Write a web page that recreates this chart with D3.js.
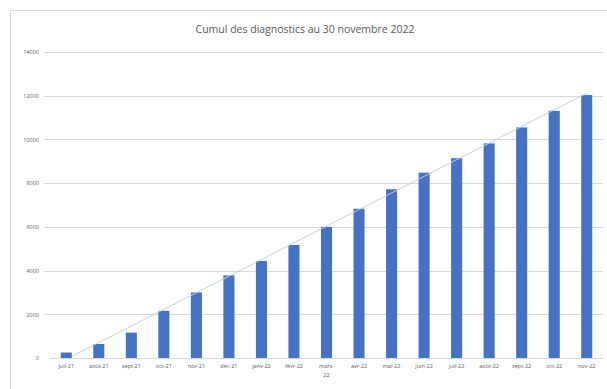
<!DOCTYPE html>
<html>
<head>
<meta charset="utf-8">
<script src="https://cdn.jsdelivr.net/npm/d3@7"></script>
<style>
  html, body { margin: 0; padding: 0; background: #fff; }
  svg { display: block; font-family: "Open Sans", "Liberation Sans", sans-serif; }
</style>
</head>
<body>
<svg id="chart" width="607" height="389"></svg>
<script>
// Cumulative diagnostics per month
const months = ["juil-21", "août-21", "sept-21", "oct-21", "nov-21", "déc-21",
  "janv-22", "févr-22", "mars-22", "avr-22", "mai-22", "juin-22", "juil-22",
  "août-22", "sept-22", "oct-22", "nov-22"];
const cumul = [250, 640, 1160, 2160, 3000, 3780, 4440, 5170, 6000, 6830,
  7720, 8480, 9140, 9820, 10550, 11310, 12030];
const yTicks = [0, 2000, 4000, 6000, 8000, 10000, 12000, 14000];
const title = "Cumul des diagnostics au 30 novembre 2022";

const svg = d3.select("#chart");
const W = 607, H = 389;
const plot = { left: 50, right: 603, top: 52, bottom: 358 };

// chart frame
svg.append("rect")
  .attr("x", 10.5).attr("y", 10.5)
  .attr("width", W + 20).attr("height", H + 20)
  .attr("fill", "#fff").attr("stroke", "#d9d9d9").attr("stroke-width", 1);

svg.append("text")
  .attr("x", 305).attr("y", 33)
  .attr("text-anchor", "middle")
  .attr("font-size", 10.5)
  .attr("fill", "#595959")
  .text(title);

const x = d3.scaleBand().domain(months)
  .range([plot.left, plot.right]).paddingInner(0.66).paddingOuter(0.33);
const y = d3.scaleLinear().domain([0, 14000]).range([plot.bottom, plot.top]);

// horizontal gridlines
svg.append("g").selectAll("line").data(yTicks.filter(d => d > 0)).join("line")
  .attr("x1", 44).attr("x2", plot.right)
  .attr("y1", d => Math.round(y(d)) + 0.5).attr("y2", d => Math.round(y(d)) + 0.5)
  .attr("stroke", "#d9d9d9").attr("stroke-width", 1);

// y axis labels
const yAxis = d3.axisLeft(y).tickValues(yTicks).tickSize(0).tickPadding(0)
  .tickFormat(d3.format("d"));
const gy = svg.append("g").attr("transform", "translate(39,0)").call(yAxis);
gy.select(".domain").remove();
gy.selectAll("text").attr("font-size", 5.5).attr("fill", "#595959")
  .attr("font-family", "Open Sans, sans-serif");

// bars
svg.append("g").selectAll("rect").data(months).join("rect")
  .attr("x", d => x(d))
  .attr("width", x.bandwidth())
  .attr("y", (d, i) => y(cumul[i]))
  .attr("height", (d, i) => y(0) - y(cumul[i]))
  .attr("fill", "#4472c4");

// baseline
svg.append("line")
  .attr("x1", plot.left).attr("x2", plot.right)
  .attr("y1", plot.bottom + 0.5).attr("y2", plot.bottom + 0.5)
  .attr("stroke", "#d9d9d9");

// linear trend line through the cumulative values
const n = cumul.length;
const xs = d3.range(n);
const mx = d3.mean(xs), my = d3.mean(cumul);
const slope = d3.sum(xs, i => (i - mx) * (cumul[i] - my)) / d3.sum(xs, i => (i - mx) ** 2);
const intercept = my - slope * mx;
const cx = i => x(months[i]) + x.bandwidth() / 2;
svg.append("line")
  .attr("x1", cx(0) + 6).attr("y1", y(intercept + slope * (0 + 6 / x.step())))
  .attr("x2", cx(n - 1)).attr("y2", y(intercept + slope * (n - 1)))
  .attr("stroke", "#c5cfe3").attr("stroke-width", 1);

// x axis labels (category names, "mars-22" wraps onto two lines)
const gx = svg.append("g");
months.forEach(m => {
  const t = gx.append("text")
    .attr("x", cx(months.indexOf(m)))
    .attr("y", 368)
    .attr("text-anchor", "middle")
    .attr("font-size", 5.5)
    .attr("fill", "#595959");
  if (m === "mars-22") {
    t.append("tspan").attr("x", cx(months.indexOf(m))).text("mars-");
    t.append("tspan").attr("x", cx(months.indexOf(m))).attr("dy", 9).text("22");
  } else {
    t.text(m);
  }
});
</script>
</body>
</html>
